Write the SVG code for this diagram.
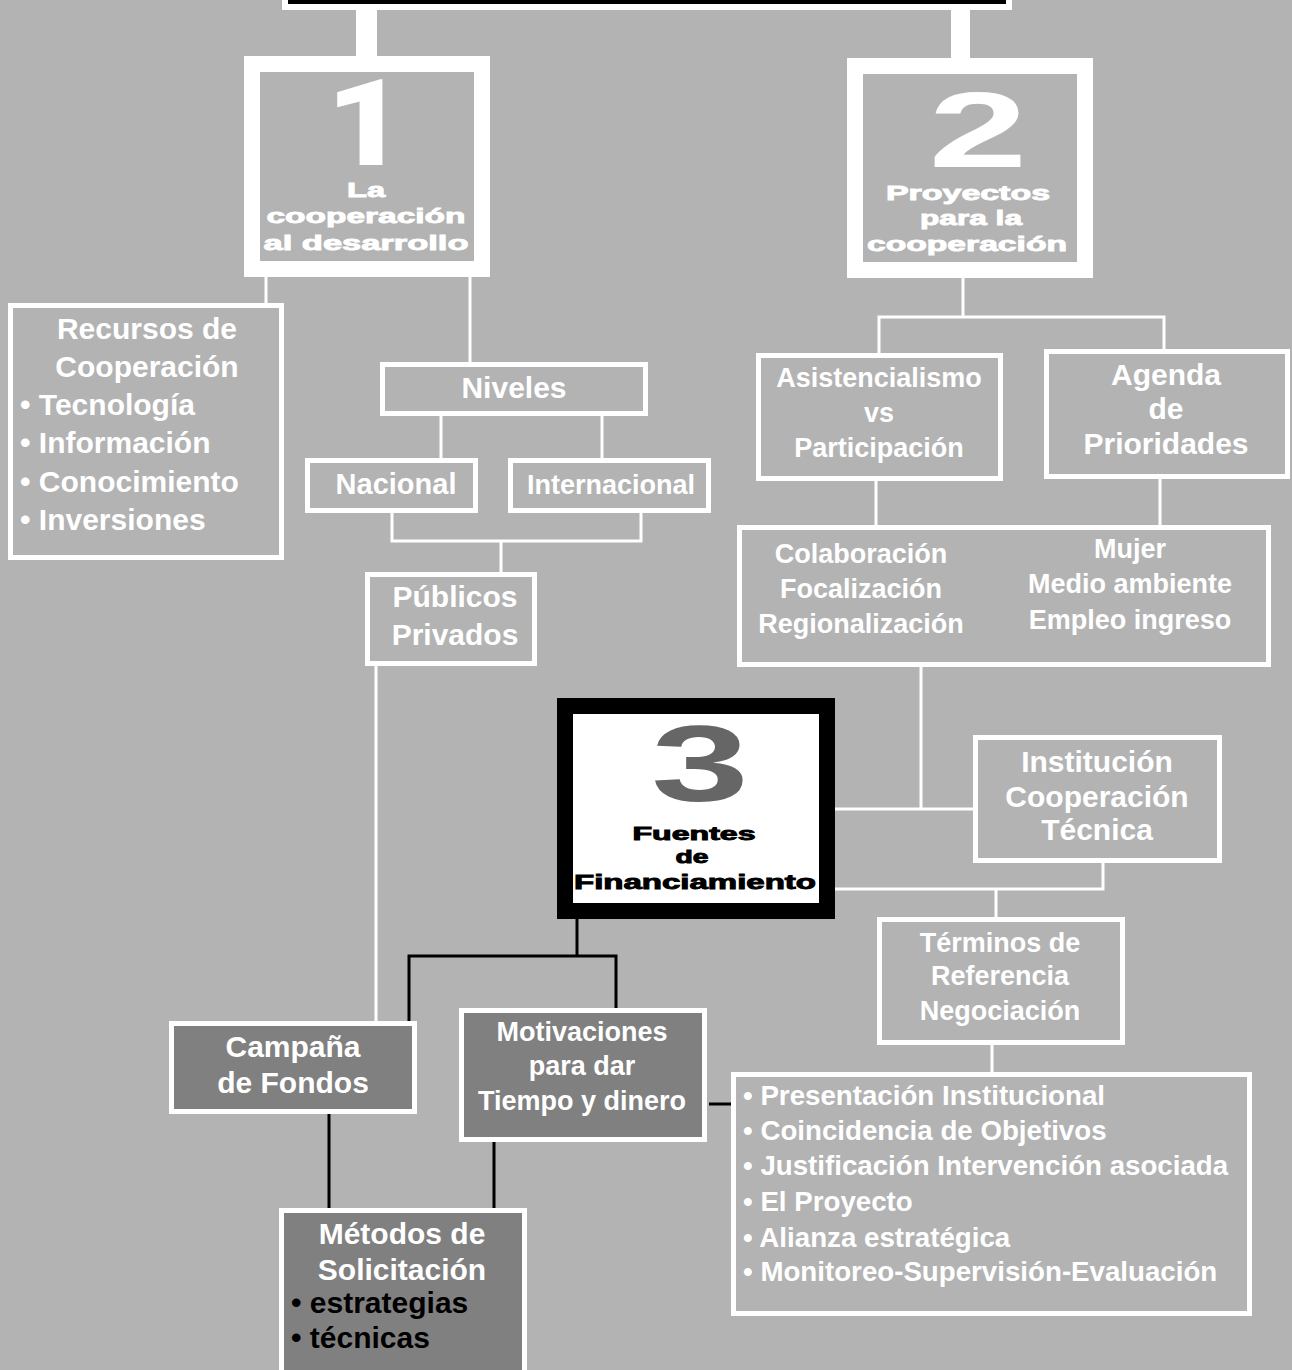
<svg xmlns="http://www.w3.org/2000/svg" width="1292" height="1370" viewBox="0 0 1292 1370">
<style>
.bg{fill:#b3b3b3}
.box{fill:#b3b3b3;stroke:#ffffff;stroke-width:5}
.dbox{fill:#808080;stroke:#ffffff;stroke-width:5}
.big{fill:#b3b3b3;stroke:#ffffff;stroke-width:16}
.wl{stroke:#ffffff;stroke-width:3;fill:none}
.bl{stroke:#000000;stroke-width:3;fill:none}
text{font-family:"Liberation Sans",Arial,sans-serif;font-weight:bold}
.t30{font-size:30px;fill:#ffffff}
.t27{font-size:27px;fill:#ffffff}
.t28{font-size:27.7px;fill:#ffffff}
.c{text-anchor:middle}
.wide{font-size:21px;fill:#ffffff;stroke:#ffffff;stroke-width:0.9;text-anchor:middle}
.wideb{font-size:19.5px;fill:#000000;stroke:#000000;stroke-width:0.9;text-anchor:middle}
.num{font-family:Roboto,"Liberation Sans",sans-serif;font-weight:900;font-size:120px;fill:#ffffff;text-anchor:middle}
</style>
<rect class="bg" x="0" y="0" width="1292" height="1370"/>

<g id="connectors">
  <rect x="356" y="8" width="21" height="50" fill="#ffffff"/>
  <rect x="951" y="8" width="19" height="52" fill="#ffffff"/>
  <path class="wl" d="M266 277V304"/>
  <path class="wl" d="M470 277V363"/>
  <path class="wl" d="M441 415V459M602 415V459"/>
  <path class="wl" d="M392 512V541H641V512"/>
  <path class="wl" d="M501 541V573"/>
  <path class="wl" d="M376 665V1021"/>
  <path class="wl" d="M963 278V317"/>
  <path class="wl" d="M879 354V317H1164V350"/>
  <path class="wl" d="M876 481V526M1160 479V526"/>
  <path class="wl" d="M921 667V809"/>
  <path class="wl" d="M835 809H974"/>
  <path class="wl" d="M1103 863V889H835"/>
  <path class="wl" d="M996 889V918"/>
  <path class="wl" d="M992 1045V1073"/>
  <path class="bl" d="M577 918V956"/>
  <path class="bl" d="M409 1021V956H616V1009"/>
  <path class="bl" d="M329 1114V1209M494 1142V1209"/>
  <path class="bl" d="M709 1104H731"/>
</g>

<g id="top">
  <rect x="285" y="-20" width="724" height="27" fill="#000000" stroke="#ffffff" stroke-width="6"/>
</g>

<g id="box1">
  <rect class="big" x="252" y="64" width="230" height="205"/>
  <text class="num" x="366" y="165" textLength="80" lengthAdjust="spacingAndGlyphs">1</text>
  <text class="wide" x="366" y="197" textLength="38" lengthAdjust="spacingAndGlyphs">La</text>
  <text class="wide" x="366" y="223" textLength="199" lengthAdjust="spacingAndGlyphs">cooperación</text>
  <text class="wide" x="366" y="250" textLength="205" lengthAdjust="spacingAndGlyphs">al desarrollo</text>
</g>

<g id="box2">
  <rect class="big" x="855" y="66" width="230" height="204"/>
  <text class="num" x="978" y="167" style="font-family:'Liberation Sans',sans-serif;font-weight:bold;font-size:108px" textLength="99" lengthAdjust="spacingAndGlyphs">2</text>
  <text class="wide" x="968" y="200" textLength="164" lengthAdjust="spacingAndGlyphs">Proyectos</text>
  <text class="wide" x="971" y="225" textLength="102" lengthAdjust="spacingAndGlyphs">para la</text>
  <text class="wide" x="967" y="251" textLength="200" lengthAdjust="spacingAndGlyphs">cooperación</text>
</g>

<g id="recursos">
  <rect class="box" x="10.5" y="305.5" width="271" height="252"/>
  <text class="t30 c" x="147" y="339">Recursos de</text>
  <text class="t30 c" x="147" y="377">Cooperación</text>
  <text class="t30" x="20" y="415">• Tecnología</text>
  <text class="t30" x="20" y="453">• Información</text>
  <text class="t30" x="20" y="492">• Conocimiento</text>
  <text class="t30" x="20" y="530">• Inversiones</text>
</g>

<g id="niveles">
  <rect class="box" x="382.5" y="364.5" width="263" height="49"/>
  <text class="t30 c" x="514" y="398">Niveles</text>
</g>

<g id="nacional">
  <rect class="box" x="307.5" y="460.5" width="168" height="50"/>
  <text class="t30 c" x="396" y="494" style="font-size:29px">Nacional</text>
</g>

<g id="internacional">
  <rect class="box" x="510.5" y="460.5" width="198" height="50"/>
  <text class="t27 c" x="611" y="494">Internacional</text>
</g>

<g id="publicos">
  <rect class="box" x="367.5" y="574.5" width="167" height="89"/>
  <text class="t30 c" x="455" y="607">Públicos</text>
  <text class="t30 c" x="455" y="645">Privados</text>
</g>

<g id="asistencialismo">
  <rect class="box" x="758.5" y="355.5" width="242" height="123"/>
  <text class="t27 c" x="879" y="387">Asistencialismo</text>
  <text class="t27 c" x="879" y="422">vs</text>
  <text class="t27 c" x="879" y="457">Participación</text>
</g>

<g id="agenda">
  <rect class="box" x="1046.5" y="351.5" width="241" height="125"/>
  <text class="t30 c" x="1166" y="385">Agenda</text>
  <text class="t30 c" x="1166" y="419">de</text>
  <text class="t30 c" x="1166" y="454">Prioridades</text>
</g>

<g id="colaboracion">
  <rect class="box" x="739.5" y="527.5" width="529" height="137"/>
  <text class="t27 c" x="861" y="563">Colaboración</text>
  <text class="t27 c" x="861" y="598">Focalización</text>
  <text class="t27 c" x="861" y="633">Regionalización</text>
  <text class="t27 c" x="1130" y="558">Mujer</text>
  <text class="t27 c" x="1130" y="593">Medio ambiente</text>
  <text class="t27 c" x="1130" y="629">Empleo ingreso</text>
</g>

<g id="box3">
  <rect x="565" y="706" width="262" height="205" fill="#ffffff" stroke="#000000" stroke-width="16"/>
  <text class="num" x="700" y="801" style="font-family:'Liberation Sans',sans-serif;font-weight:bold;font-size:108px;fill:#666666" textLength="98" lengthAdjust="spacingAndGlyphs">3</text>
  <text class="wideb" x="694" y="840" style="font-size:18px" textLength="123" lengthAdjust="spacingAndGlyphs">Fuentes</text>
  <text class="wideb" x="692" y="863" style="font-size:18px" textLength="33" lengthAdjust="spacingAndGlyphs">de</text>
  <text class="wideb" x="695" y="889" textLength="242" lengthAdjust="spacingAndGlyphs">Financiamiento</text>
</g>

<g id="institucion">
  <rect class="box" x="975.5" y="737.5" width="244" height="123"/>
  <text class="t30 c" x="1097" y="772">Institución</text>
  <text class="t30 c" x="1097" y="807">Cooperación</text>
  <text class="t30 c" x="1097" y="840">Técnica</text>
</g>

<g id="terminos">
  <rect class="box" x="879.5" y="919.5" width="243" height="123"/>
  <text class="t27 c" x="1000" y="952">Términos de</text>
  <text class="t27 c" x="1000" y="985">Referencia</text>
  <text class="t27 c" x="1000" y="1020">Negociación</text>
</g>

<g id="lista">
  <rect class="box" x="733.5" y="1074.5" width="516" height="239"/>
  <text class="t28" x="743" y="1105">• Presentación Institucional</text>
  <text class="t28" x="743" y="1140">• Coincidencia de Objetivos</text>
  <text class="t28" x="743" y="1175">• Justificación Intervención asociada</text>
  <text class="t28" x="743" y="1211">• El Proyecto</text>
  <text class="t28" x="743" y="1247">• Alianza estratégica</text>
  <text class="t28" x="743" y="1281">• Monitoreo-Supervisión-Evaluación</text>
</g>

<g id="campana">
  <rect class="dbox" x="171.5" y="1023.5" width="243" height="88"/>
  <text class="t30 c" x="293" y="1057">Campaña</text>
  <text class="t30 c" x="293" y="1093">de Fondos</text>
</g>

<g id="motivaciones">
  <rect class="dbox" x="461.5" y="1010.5" width="243" height="129"/>
  <text class="t27 c" x="582" y="1041">Motivaciones</text>
  <text class="t27 c" x="582" y="1075">para dar</text>
  <text class="t27 c" x="582" y="1110">Tiempo y dinero</text>
</g>

<g id="metodos">
  <rect class="dbox" x="281.5" y="1210.5" width="243" height="170"/>
  <text class="t30 c" x="402" y="1244">Métodos de</text>
  <text class="t30 c" x="402" y="1280">Solicitación</text>
  <text class="t30" x="291" y="1313" style="fill:#000000">• estrategias</text>
  <text class="t30" x="291" y="1348" style="fill:#000000">• técnicas</text>
</g>
</svg>
